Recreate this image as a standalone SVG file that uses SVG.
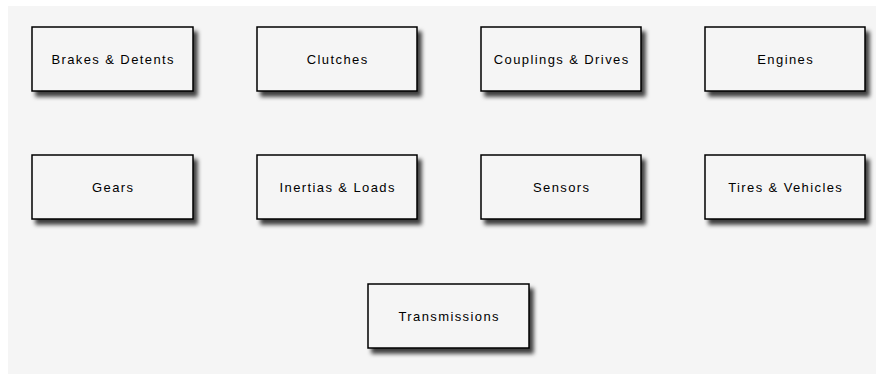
<svg xmlns="http://www.w3.org/2000/svg" width="876" height="374" viewBox="0 0 876 374">
<defs>
<filter id="sh" x="-10%" y="-20%" width="130%" height="150%">
<feDropShadow dx="4" dy="5" stdDeviation="2.2" flood-color="#000" flood-opacity="0.75"/>
</filter>
</defs>
<style>
.box{fill:#f5f5f5;stroke:#000;stroke-width:1.5;filter:url(#sh)}
.lbl{font-family:"Liberation Sans",Arial,sans-serif;font-size:13px;letter-spacing:1.4px;fill:#000;text-anchor:middle;dominant-baseline:central}
</style>
<rect x="8" y="6" width="868" height="368" fill="#f5f5f5"/>
<g id="connectors"/>
<g id="brakes"><rect class="box" x="32" y="27" width="161" height="64"/><text class="lbl" x="113.2" y="59">Brakes &amp; Detents</text></g>
<g id="clutches"><rect class="box" x="257" y="27" width="160" height="64"/><text class="lbl" x="337.7" y="59">Clutches</text></g>
<g id="couplings"><rect class="box" x="481" y="27" width="160" height="64"/><text class="lbl" x="561.7" y="59">Couplings &amp; Drives</text></g>
<g id="engines"><rect class="box" x="705" y="27" width="160" height="64"/><text class="lbl" x="785.7" y="59">Engines</text></g>
<g id="gears"><rect class="box" x="32" y="155" width="161" height="64"/><text class="lbl" x="113.2" y="187">Gears</text></g>
<g id="inertias"><rect class="box" x="257" y="155" width="160" height="64"/><text class="lbl" x="337.7" y="187">Inertias &amp; Loads</text></g>
<g id="sensors"><rect class="box" x="481" y="155" width="160" height="64"/><text class="lbl" x="561.7" y="187">Sensors</text></g>
<g id="tires"><rect class="box" x="705" y="155" width="160" height="64"/><text class="lbl" x="785.7" y="187">Tires &amp; Vehicles</text></g>
<g id="transmissions"><rect class="box" x="368" y="284" width="161" height="64"/><text class="lbl" x="449.2" y="316">Transmissions</text></g>
</svg>
